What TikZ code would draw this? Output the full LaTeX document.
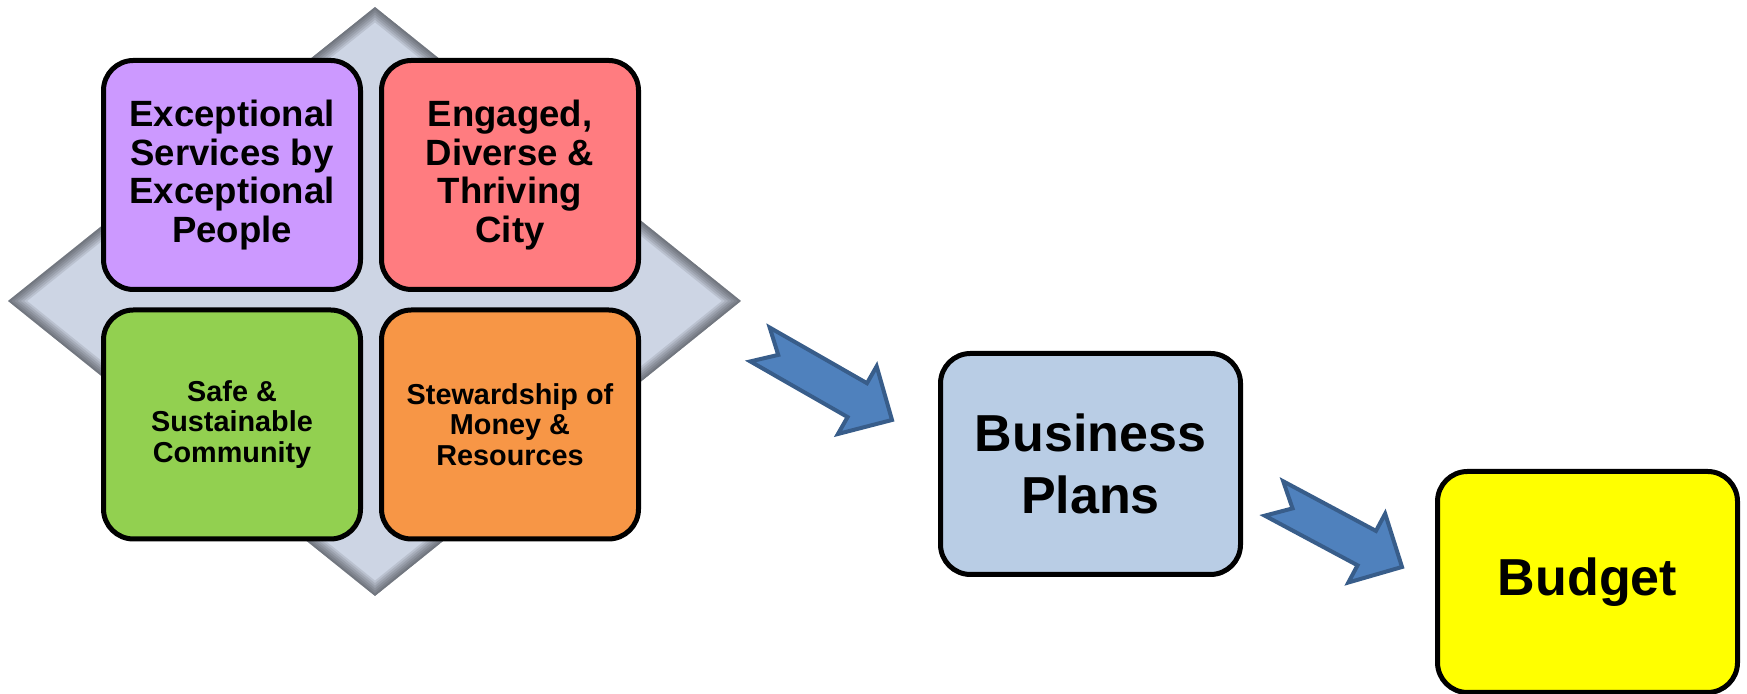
\documentclass[tikz,border=0pt]{standalone}
\usepackage{fontspec}
\setmainfont{Liberation Sans}
\usetikzlibrary{positioning,calc}

\definecolor{goalpurple}{HTML}{CC99FF}
\definecolor{goalred}{HTML}{FF7C80}
\definecolor{goalgreen}{HTML}{92D050}
\definecolor{goalorange}{HTML}{F79646}
\definecolor{planblue}{HTML}{B9CDE5}
\definecolor{budgetyellow}{HTML}{FFFF00}
\definecolor{diamondgray}{HTML}{CDD5E4}
\definecolor{arrowfill}{HTML}{4F81BD}
\definecolor{arrowline}{HTML}{385D8A}

% block arrow from tail (#1) to tip (#2)
\newcommand{\blockarrow}[2]{%
  \filldraw[bigarrow]
    ($(#1)!0.195cm!90:(#2)$) --
    ($(#2)!0.4cm!(#1)!0.195cm!-90:(#1)$) --
    ($(#2)!0.4cm!(#1)!0.39cm!-90:(#1)$) --
    (#2) --
    ($(#2)!0.4cm!(#1)!0.39cm!90:(#1)$) --
    ($(#2)!0.4cm!(#1)!0.195cm!90:(#1)$) --
    ($(#1)!0.195cm!-90:(#2)$) --
    ($(#1)!0.21cm!(#2)$) -- cycle;}

\begin{document}
\begin{tikzpicture}[
    goal/.style={draw=black, line width=0.05cm, rounded corners=0.3cm, align=center,
      minimum width=2.57cm, minimum height=2.29cm, inner sep=0pt,
      font=\bfseries\fontsize{10.4}{11}\selectfont},
    smallgoal/.style={font=\bfseries\fontsize{8.2}{8.6}\selectfont},
    plan/.style={draw=black, line width=0.05cm, rounded corners=0.3cm, align=center,
      minimum width=3.0cm, minimum height=2.21cm, inner sep=0pt,
      font=\bfseries\fontsize{14.8}{17.6}\selectfont},
    bigarrow/.style={fill=arrowfill, draw=arrowline, line width=0.04cm, line join=miter}]
  \useasboundingbox (0,0) rectangle (17.47,6.94);

  % diamond behind the four goals
  \coordinate (dtop) at (3.75,6.87);
  \coordinate (dright) at (7.41,3.93);
  \coordinate (dbottom) at (3.75,0.98);
  \coordinate (dleft) at (0.08,3.93);
  \begin{scope}
    \clip (dtop) -- (dright) -- (dbottom) -- (dleft) -- cycle;
    \fill[diamondgray] (dtop) -- (dright) -- (dbottom) -- (dleft) -- cycle;
    \foreach \w in {0.24,0.2,0.16,0.12,0.08,0.04}
      \draw[black, opacity=0.09, line width=\w cm] (dtop) -- (dright) -- (dbottom) -- (dleft) -- cycle;
  \end{scope}

  % goals
  \node[goal, fill=goalpurple] (service) at (2.32,5.19) {Exceptional\\Services by\\Exceptional\\People};
  \node[goal, fill=goalred, right=0.16cm of service] (city) {Engaged,\\Diverse \&\\Thriving\\City};
  \node[goal, fill=goalgreen, below=0.155cm of service, smallgoal] (safety) {Safe \&\\Sustainable\\Community};
  \node[goal, fill=goalorange, right=0.16cm of safety, smallgoal] (money) {Stewardship of\\Money \&\\Resources};

  % plans and budget
  \node[plan, fill=planblue] (plans) at (10.905,2.30) {Business\\Plans};
  \node[plan, fill=budgetyellow] (budget) at (15.875,1.12) {Budget};

  % arrows
  \coordinate (goaltail) at (7.60,3.495);
  \coordinate (goaltip) at (8.92,2.74);
  \coordinate (plantail) at (12.74,1.955);
  \coordinate (plantip) at (14.02,1.27);
  \blockarrow{goaltail}{goaltip}
  \blockarrow{plantail}{plantip}
\end{tikzpicture}
\end{document}
